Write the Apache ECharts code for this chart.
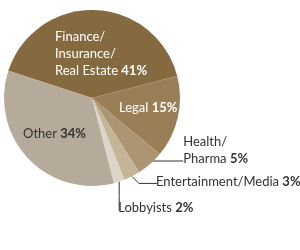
<!DOCTYPE html>
<html>
<head>
<meta charset="UTF-8">
<title>Pie</title>
<script type="text/javascript" src="https://cdn.jsdelivr.net/npm/echarts@6/dist/echarts.min.js"></script>
<style>
  html, body { margin: 0; padding: 0; background: #fff; }
</style>
</head>
<body>
	<div id="box" style="width:300px;height:250px;"></div>
	<script type="text/javascript">
		var names = ['Finance/\nInsurance/\nReal Estate', 'Legal', 'Health/\nPharma', 'Entertainment/Media', 'Lobbyists', 'Other'];
		var values = [41, 15, 5, 3, 2, 34];
		var colors = ['#846a3e', '#9a7f56', '#ad9472', '#c4b597', '#dcd6c9', '#b6ab9b'];
		var textColors = ['#fff', '#fff', '#333', '#333', '#333', '#333'];

		var CX = 92, CY = 98, R = 88;
		var font = 'Lato';

		var data = names.map(function (n, i) {
			var c = textColors[i];
			return {
				name: n,
				value: values[i],
				itemStyle: { color: colors[i] },
				label: {
					position: i >= 2 && i <= 4 ? 'outside' : 'inside',
					formatter: '{n|' + n + ' }{b|' + values[i] + '%}',
					rich: {
						n: { color: c, fontFamily: font, fontSize: 13, lineHeight: 17 },
						b: { color: c, fontFamily: font, fontSize: 13, fontWeight: 'bold', lineHeight: 17 }
					}
				},
				labelLine: { show: i >= 2 && i <= 4, length: 8, length2: 20 }
			};
		});

		var mychart = echarts.init(document.getElementById('box'));
		var option = {
			animation: false,
			series: [{
				type: 'pie',
				center: [CX, CY],
				radius: R,
				startAngle: 162,
				clockwise: true,
				avoidLabelOverlap: false,
				labelLine: { lineStyle: { color: '#333', width: 1 } },
				data: data,
				labelLayout: function (p) {
					var i = p.dataIndex;
					if (i === 0) return { x: CX - 37, y: CY - 44, align: 'left', verticalAlign: 'middle' };
					if (i === 1) return { x: CX + 27, y: CY + 10, align: 'left', verticalAlign: 'middle' };
					if (i === 5) return { x: CX - 69, y: CY + 36, align: 'left', verticalAlign: 'middle' };
					var s = p.labelLinePoints && p.labelLinePoints[0];
					if (!s) return;
					if (i === 2) {
						return {
							x: s[0] + 33, y: s[1] + 3, align: 'left', verticalAlign: 'bottom',
							labelLinePoints: [[s[0], s[1] - 3], [s[0] + 16, s[1] - 3], [s[0] + 33, s[1] - 3]]
						};
					}
					if (i === 3) {
						return {
							x: s[0] + 24, y: s[1] + 5, align: 'left', verticalAlign: 'middle',
							labelLinePoints: [s, [s[0] + 7, s[1] + 7], [s[0] + 25, s[1] + 7]]
						};
					}
					if (i === 4) {
						return {
							x: s[0] - 1, y: s[1] + 26, align: 'left', verticalAlign: 'middle',
							labelLinePoints: [s, [s[0], s[1] + 14], [s[0], s[1] + 29]]
						};
					}
				}
			}]
		};
		mychart.setOption(option);
	</script>
</body>
</html>
